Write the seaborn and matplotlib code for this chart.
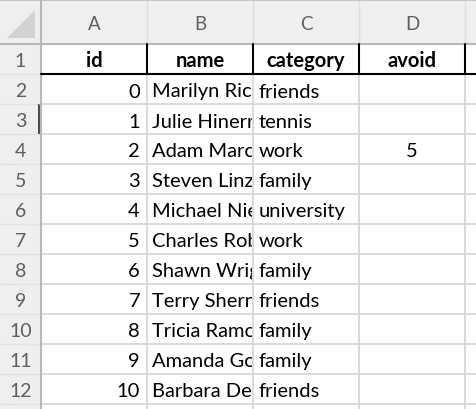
import matplotlib
matplotlib.use("Agg")
import matplotlib.pyplot as plt
from matplotlib.patches import Rectangle, Polygon
from matplotlib.transforms import Bbox, TransformedBbox
import seaborn as sns

# sheet contents (names are cut off by the column width, as shown)
col_letters = ["A", "B", "C", "D"]
headers = ["id", "name", "category", "avoid"]
ids = [0, 1, 2, 3, 4, 5, 6, 7, 8, 9, 10]
names = ["Marilyn Ric", "Julie Hinerr", "Adam Marc", "Steven Linz",
         "Michael Nie", "Charles Rob", "Shawn Wrig", "Terry Shern",
         "Tricia Ramo", "Amanda Go", "Barbara De"]
categories = ["friends", "tennis", "work", "family", "university", "work",
              "family", "friends", "family", "family", "friends"]
avoid = [None, None, 5, None, None, None, None, None, None, None, None]

# layout (pixels)
W, H = 476, 410
col_edges = [0, 41, 147, 253, 359, 465, 571]
hdr_h = 45
row_h = 30
n_rows = 13
n_labels = 12

sns.set_theme(style="white")
plt.rcParams['font.family'] = ['Lato', 'DejaVu Sans']

fig = plt.figure(figsize=(W / 100, H / 100), dpi=100)
ax = fig.add_axes([0, 0, 1, 1])
ax.set_xlim(0, W)
ax.set_ylim(H, 0)
ax.axis("off")

grid_c = "#d4d4d4"
hdr_bg = "#efefef"
hdr_line = "#b8b8b8"
lab_c = "#5f5f5f"
fs = 14.5

# header backgrounds
ax.add_patch(Rectangle((0, 0), W, hdr_h, color=hdr_bg, lw=0))
ax.add_patch(Rectangle((0, 0), col_edges[1], H, color=hdr_bg, lw=0))
ax.add_patch(Polygon([(7, 39), (35, 39), (35, 11)], color="#d2d2d2", lw=0))

# cell grid
for x in col_edges[2:]:
    ax.plot([x, x], [hdr_h, H], color=grid_c, lw=1.2)
    ax.plot([x, x], [2, hdr_h], color="#dedede", lw=1.0)
for r in range(1, n_rows + 1):
    y = hdr_h + r * row_h
    ax.plot([col_edges[1], W], [y, y], color=grid_c, lw=1.2)
    ax.plot([0, col_edges[1]], [y, y], color="#d8d8d8", lw=1.0, ls=(0, (1, 1)))

# header borders
ax.plot([0, W], [1, 1], color="#c4c4c4", lw=1.4)
ax.plot([0, W], [hdr_h - 0.5, hdr_h - 0.5], color=hdr_line, lw=1.5)
ax.plot([col_edges[1], col_edges[1]], [0, H], color=hdr_line, lw=1.5)

# selected row marker
ax.add_patch(Rectangle((37.5, hdr_h + 2 * row_h), 3.5, row_h, color="#4a4a4a", lw=0))

# bold header row borders
ax.plot([col_edges[1], W], [hdr_h + row_h, hdr_h + row_h], color="black", lw=1.5)
for x in col_edges[2:6]:
    ax.plot([x, x], [hdr_h, hdr_h + row_h], color="black", lw=1.5)

# column letters and row numbers
for i, c in enumerate(col_letters):
    xc = (col_edges[i + 1] + col_edges[i + 2]) / 2
    ax.text(xc, 29.5, c, ha="center", va="baseline", fontsize=13.5, color=lab_c)
for r in range(n_labels):
    ax.text(20.5, hdr_h + r * row_h + 22, str(r + 1), ha="center",
            va="baseline", fontsize=14, color=lab_c)


def cell_clip(t, col, row):
    x0, x1 = col_edges[col + 1], col_edges[col + 2]
    y0 = hdr_h + row * row_h
    t.set_clip_box(TransformedBbox(Bbox([[x0, y0], [x1 - 1, y0 + row_h]]), ax.transData))
    t.set_clip_on(True)


# header row
for j, h in enumerate(headers):
    xc = (col_edges[j + 1] + col_edges[j + 2]) / 2
    ax.text(xc, hdr_h + 22, h, ha="center", va="baseline", fontsize=fs,
            fontweight="bold", color="black")

# data rows
for i in range(len(ids)):
    yb = hdr_h + (i + 1) * row_h + 22.5
    ax.text(col_edges[2] - 7, yb, str(ids[i]), ha="right", va="baseline",
            fontsize=fs, color="black")
    t = ax.text(col_edges[2] + 5.5, yb, names[i], ha="left", va="baseline",
                fontsize=fs, color="black")
    cell_clip(t, 1, i + 1)
    ax.text(col_edges[3] + 5.5, yb, categories[i], ha="left", va="baseline",
            fontsize=fs, color="black")
    if avoid[i] is not None:
        xc = (col_edges[4] + col_edges[5]) / 2
        ax.text(xc, yb, str(avoid[i]), ha="center", va="baseline",
                fontsize=fs, color="black")

fig.savefig("out.png", dpi=100)
